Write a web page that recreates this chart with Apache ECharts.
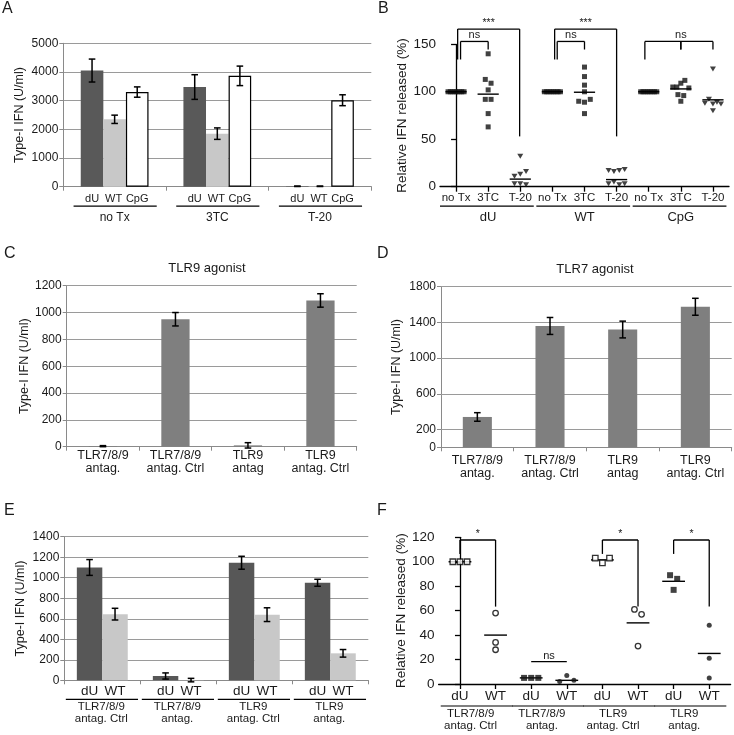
<!DOCTYPE html>
<html><head><meta charset="utf-8">
<script src="https://cdn.jsdelivr.net/npm/echarts@6/dist/echarts.min.js"></script>
<style>html,body{margin:0;padding:0;background:#fff}#c{width:734px;height:735px}</style>
</head><body><div id="c"></div>
<script>
// ---------------- DATA ----------------
// Panel A
const aGroups = ['no Tx', '3TC', 'T-20'];
const aBarNames = ['dU', 'WT', 'CpG'];
const aDU = [4050, 3475, 15];
const aWT = [2350, 1850, 15];
const aCpG = [3300, 3865, 3015];
const aDUerr = [400, 430, 8];
const aWTerr = [145, 200, 8];
const aCpGerr = [180, 340, 190];

// Panel B
const bGroups = ['dU', 'WT', 'CpG'];
const bTreat = ['no Tx', '3TC', 'T-20'];
const bDUnoTx = [100, 100, 100, 100, 100, 100, 100, 100];
const bDU3TC = [140, 113, 109, 102, 92, 92, 77, 63];
const bDUT20 = [32, 11, 13, 16, 3, 3, 2];
const bWTnoTx = [100, 100, 100, 100, 100, 100, 100, 100];
const bWT3TC = [126, 116, 107, 100, 90, 89, 92, 77];
const bWTT20 = [17, 16, 17, 18, 3, 5, 2, 3];
const bCpGnoTx = [100, 100, 100, 100, 100, 100, 100, 100];
const bCpG3TC = [105, 105, 109, 112, 104, 97, 96, 90];
const bCpGT20 = [124, 88, 92, 87, 89, 87, 80];
const bMedians = [100, 97.5, 8, 100, 99.5, 7.5, 100, 103, 91.5];
// brackets: [fromCol, toCol, barValue, fromDrop, toDrop]
const bBrackets = [[0.05, 1.98, 166, 134, 53], [0.14, 1, 153, 134, 144.5],
                   [3.07, 5, 166, 134, 53], [3.15, 4, 153, 134, 144.5],
                   [5.88, 8, 153, 134, 144.5], [7, 7, 153, 144.5, 144.5]];
const bBracketLabels = ['***', 'ns', '***', 'ns', '', ''];
const bMidLabels = [[7, 153, 'ns']];

// Panels C, D
const cdCats = ['TLR7/8/9\nantag.', 'TLR7/8/9\nantag. Ctrl', 'TLR9\nantag', 'TLR9\nantag. Ctrl'];
const cVals = [4, 950, 10, 1090];
const cErr = [4, 50, 20, 50];
const dVals = [340, 1360, 1320, 1575];
const dErr = [48, 95, 94, 95];
const dTicks = [0, 200, 600, 1000, 1400, 1800];

// Panel E
const eGroups = ['TLR7/8/9\nantag. Ctrl', 'TLR7/8/9\nantag.', 'TLR9\nantag. Ctrl', 'TLR9\nantag.'];
const eBarNames = ['dU', 'WT'];
const eDU = [1100, 42, 1146, 951];
const eDUerr = [77, 30, 63, 34];
const eWT = [645, 2, 640, 263];
const eWTerr = [57, 17, 67, 37];

// Panel F
const fGroups = ['TLR7/8/9\nantag. Ctrl', 'TLR7/8/9\nantag.', 'TLR9\nantag. Ctrl', 'TLR9\nantag.'];
const fSub = ['dU', 'WT'];
const fDU = [[100, 100, 100], [5, 5, 5], [103, 99, 103], [89, 86, 77]];
const fWT = [[58, 34, 28], [2, 7, 3], [61, 57, 31], [48, 21, 5]];
const fFilled = [false, true, false, true];
const fDUmed = [100, 5, 101.5, 84];
const fWTmed = [40, 3, 50, 25];
const fBrackets = [[0, 1, 117.8, 106.4, 63.3], [2, 3, 18.3, 18.3, 18.3], [4, 5, 117.8, 106.4, 63.3], [6, 7, 117.8, 106.4, 63.3]];
const fBracketLabels = ['*', 'ns', '*', '*'];

// ---------------- STYLE ----------------
const FONT = '"Liberation Sans", Arial, Helvetica, sans-serif';
const TXT = '#1a1a1a';
const GRIDC = '#9a9a9a';
const AXC = '#8a8a8a';
const plain = v => String(v);

function ln(x1, y1, x2, y2, color, w) {
  return { type: 'line', shape: { x1, y1, x2, y2 }, style: { stroke: color || '#000', lineWidth: w || 1.2 } };
}
function tx(x, y, str, size, align, valign) {
  return { type: 'text', x, y, style: { text: str, fill: TXT, fontSize: size, fontFamily: FONT, align: align || 'center', verticalAlign: valign || 'middle' } };
}
function errBar(cx, yT, yB, cap) {
  return [ln(cx, yT, cx, yB, '#000', 1.5), ln(cx - cap, yT, cx + cap, yT, '#000', 1.5), ln(cx - cap, yB, cx + cap, yB, '#000', 1.5)];
}
// spread points of nearly equal value sideways (dot-plot layout)
function jitter(vals, col, yThresh, step, maxSpread) {
  const idx = vals.map((v, i) => i).sort((p, q) => vals[q] - vals[p]);
  const clusters = []; let cur = [idx[0]];
  for (let k = 1; k < idx.length; k++) {
    if (Math.abs(vals[idx[k - 1]] - vals[idx[k]]) < yThresh) cur.push(idx[k]);
    else { clusters.push(cur); cur = [idx[k]]; }
  }
  clusters.push(cur);
  const out = [];
  clusters.forEach(c => {
    c.sort((p, q) => p - q);
    const n = c.length; const s = n > 1 ? Math.min(step, maxSpread / (n - 1)) : 0;
    c.forEach((id, j) => { out.push([col + (j - (n - 1) / 2) * s, vals[id]]); });
  });
  return out;
}
function catWidth(api) { return api.coord([1, 0])[0] - api.coord([0, 0])[0]; }

const excelY = (min, max, interval, name, gap, grid) => ({
  type: 'value', gridIndex: grid, min, max, interval,
  axisLine: { show: true, lineStyle: { color: AXC, width: 1 } },
  axisTick: { show: true, length: 4, lineStyle: { color: AXC } },
  axisLabel: { color: TXT, fontSize: 12, fontFamily: FONT, margin: 5, formatter: plain },
  splitLine: { show: true, lineStyle: { color: GRIDC, width: 1 } },
  name, nameLocation: 'middle', nameGap: gap, nameRotate: 90,
  nameTextStyle: { color: TXT, fontSize: 12.5, fontFamily: FONT }
});
const excelX = (data, grid, showLabel, margin) => ({
  type: 'category', gridIndex: grid, data,
  axisLine: { show: true, lineStyle: { color: AXC, width: 1 } },
  axisTick: { show: true, length: 4, lineStyle: { color: AXC } },
  axisLabel: { show: showLabel, color: TXT, fontSize: 12.5, fontFamily: FONT, margin: margin || 3, lineHeight: 12.5, interval: 0 },
  splitLine: { show: false }
});
const prismY = (min, max, interval, name, gap, grid) => ({
  type: 'value', gridIndex: grid, min, max, interval,
  axisLine: { show: true, lineStyle: { color: '#000', width: 1.3 } },
  axisTick: { show: true, length: 5, lineStyle: { color: '#000', width: 1.3 } },
  axisLabel: { color: TXT, fontSize: 13.5, fontFamily: FONT, margin: 4, formatter: plain },
  splitLine: { show: false },
  name, nameLocation: 'middle', nameGap: gap, nameRotate: 90,
  nameTextStyle: { color: TXT, fontSize: 13.5, fontFamily: FONT }
});
const prismX = (min, max, n, fmt, grid, fontSize, margin) => {
  const vals = Array.from({ length: n }, (_, i) => i);
  return {
    type: 'value', gridIndex: grid, min, max,
    axisLine: { show: true, onZero: false, lineStyle: { color: '#000', width: 1.3 } },
    axisTick: { show: true, length: 5, customValues: vals, lineStyle: { color: '#000', width: 1.3 } },
    axisLabel: { show: true, customValues: vals, formatter: v => fmt(Math.round(v)), color: TXT, fontSize, fontFamily: FONT, margin },
    splitLine: { show: false }
  };
};

// ---------------- OPTION ----------------
const chart = echarts.init(document.getElementById('c'), null, { renderer: 'canvas', width: 734, height: 735 });

const series = [];
// ----- A -----
const A_GAP = 0.34;
const aVals = [aDU, aWT, aCpG], aErrs = [aDUerr, aWTerr, aCpGerr];
const aColors = ['#595959', '#c8c8c8', '#ffffff'];
aVals.forEach((arr, k) => series.push({
  type: 'bar', name: aBarNames[k], xAxisIndex: 0, yAxisIndex: 0, data: arr,
  barGap: '0%', barCategoryGap: (A_GAP * 100) + '%',
  itemStyle: { color: aColors[k], borderColor: k === 2 ? '#000' : aColors[k], borderWidth: k === 2 ? 1.2 : 0 },
  silent: true
}));
const aErrData = [];
aVals.forEach((arr, k) => arr.forEach((v, i) => aErrData.push([i, v, aErrs[k][i], k])));
series.push({
  type: 'custom', xAxisIndex: 0, yAxisIndex: 0, data: aErrData, z: 5, silent: true,
  renderItem: (p, api) => {
    const i = api.value(0), v = api.value(1), e = api.value(2), k = api.value(3);
    const bw = catWidth(api) * (1 - A_GAP) / 3;
    const cx = api.coord([i, 0])[0] + (k - 1) * bw;
    return { type: 'group', children: errBar(cx, api.coord([i, v + e])[1], api.coord([i, v - e])[1], 3.3) };
  }
});
series.push({
  type: 'custom', xAxisIndex: 0, yAxisIndex: 0, data: aGroups.map((g, i) => [i, 0]), silent: true,
  renderItem: (p, api) => {
    const i = api.value(0); const c0 = api.coord([i, 0]); const cw = catWidth(api);
    const bw = cw * (1 - A_GAP) / 3;
    const ch = aBarNames.map((n, k) => tx(c0[0] + (k - 1) * bw - (k === 1 ? 1 : 0), c0[1] + 12, n, 11));
    ch.push(ln(c0[0] - 0.40 * cw, c0[1] + 19.5, c0[0] + 0.41 * cw, c0[1] + 19.5, '#000', 1.2));
    ch.push(tx(c0[0], c0[1] + 30.5, aGroups[i], 12));
    return { type: 'group', children: ch };
  }
});

// ----- B -----
const bColumns = [bDUnoTx, bDU3TC, bDUT20, bWTnoTx, bWT3TC, bWTT20, bCpGnoTx, bCpG3TC, bCpGT20];
const bSq = [], bTri = [];
bColumns.forEach((col, i) => { const pts = jitter(col, i, 5, 0.18, 0.5); (i % 3 === 2 ? bTri : bSq).push(...pts); });
series.push({ type: 'scatter', xAxisIndex: 1, yAxisIndex: 1, data: bSq, symbol: 'rect', symbolSize: 5, itemStyle: { color: '#111' }, silent: true });
series.push({ type: 'scatter', xAxisIndex: 1, yAxisIndex: 1, data: bTri, symbol: 'triangle', symbolRotate: 180, symbolSize: [6, 5], itemStyle: { color: '#111' }, silent: true });
series.push({
  type: 'custom', xAxisIndex: 1, yAxisIndex: 1, data: bMedians.map((m, i) => [i, m]), silent: true, z: 4,
  renderItem: (p, api) => {
    const i = api.value(0), m = api.value(1);
    const a = api.coord([i - 0.33, m]), b = api.coord([i + 0.33, m]);
    return ln(a[0], a[1], b[0], b[1], '#000', 1.4);
  }
});
series.push({
  type: 'custom', xAxisIndex: 1, yAxisIndex: 1, data: bBrackets.map((b, i) => [...b, i]), silent: true, clip: false,
  renderItem: (p, api) => {
    const x1 = api.value(0), x2 = api.value(1), y = api.value(2), y1 = api.value(3), y2 = api.value(4), k = api.value(5);
    const a = api.coord([x1, y]), b = api.coord([x2, y]), a2 = api.coord([x1, y1]), b2 = api.coord([x2, y2]);
    const ch = [ln(a[0], a[1], b[0], b[1], '#000', 1.3), ln(a[0], a[1], a2[0], a2[1], '#000', 1.3), ln(b[0], b[1], b2[0], b2[1], '#000', 1.3)];
    const lab = bBracketLabels[k];
    if (lab) ch.push(tx((a[0] + b[0]) / 2, a[1] - 6.5, lab, lab === 'ns' ? 11 : 10.5));
    return { type: 'group', children: ch };
  }
});
series.push({
  type: 'custom', xAxisIndex: 1, yAxisIndex: 1, data: bMidLabels.map(m => [m[0], m[1]]), silent: true, clip: false,
  renderItem: (p, api) => { const c = api.coord([api.value(0), api.value(1)]); return tx(c[0], c[1] - 6.5, bMidLabels[p.dataIndex][2], 11); }
});
series.push({
  type: 'custom', xAxisIndex: 1, yAxisIndex: 1, data: bGroups.map((g, i) => [i * 3 + 1, 0]), silent: true, clip: false,
  renderItem: (p, api) => {
    const c = api.value(0); const a = api.coord([c - 1.5, 0]), b = api.coord([c + 1.42, 0]), m = api.coord([c, 0]);
    return { type: 'group', children: [ln(a[0], a[1] + 19.5, b[0], b[1] + 19.5, '#000', 1.2), tx(m[0], m[1] + 31, bGroups[p.dataIndex], 13)] };
  }
});

// ----- C -----
const C_GAP = 0.61;
series.push({ type: 'bar', xAxisIndex: 2, yAxisIndex: 2, data: cVals, barCategoryGap: (C_GAP * 100) + '%', itemStyle: { color: '#7f7f7f' }, silent: true });
series.push({
  type: 'custom', xAxisIndex: 2, yAxisIndex: 2, data: cVals.map((v, i) => [i, v, cErr[i]]), silent: true, z: 5,
  renderItem: (p, api) => {
    const i = api.value(0), v = api.value(1), e = api.value(2);
    return { type: 'group', children: errBar(api.coord([i, 0])[0], api.coord([i, v + e])[1], api.coord([i, v - e])[1], 3.3) };
  }
});
// ----- D -----
const D_GAP = 0.60;
series.push({
  type: 'bar', xAxisIndex: 3, yAxisIndex: 3, data: dVals, barCategoryGap: (D_GAP * 100) + '%', itemStyle: { color: '#7f7f7f' }, silent: true, z: 3,
  markLine: { silent: true, symbol: 'none', z: 1, label: { show: false }, lineStyle: { color: GRIDC, type: 'solid', width: 1 },
    data: dTicks.filter(v => v > 0).map(v => ({ yAxis: v })) }
});
series.push({
  type: 'custom', xAxisIndex: 3, yAxisIndex: 3, data: dVals.map((v, i) => [i, v, dErr[i]]), silent: true, z: 5,
  renderItem: (p, api) => {
    const i = api.value(0), v = api.value(1), e = api.value(2);
    return { type: 'group', children: errBar(api.coord([i, 0])[0], api.coord([i, v + e])[1], api.coord([i, v - e])[1], 3.3) };
  }
});

// ----- E -----
const E_GAP = 0.33;
const eVals = [eDU, eWT], eErrs = [eDUerr, eWTerr], eColors = ['#575757', '#c8c8c8'];
eVals.forEach((arr, k) => series.push({
  type: 'bar', name: eBarNames[k], xAxisIndex: 4, yAxisIndex: 4, data: arr, barGap: '0%', barCategoryGap: (E_GAP * 100) + '%',
  itemStyle: { color: eColors[k] }, silent: true
}));
const eErrData = [];
eVals.forEach((arr, k) => arr.forEach((v, i) => eErrData.push([i, v, eErrs[k][i], k])));
series.push({
  type: 'custom', xAxisIndex: 4, yAxisIndex: 4, data: eErrData, silent: true, z: 5,
  renderItem: (p, api) => {
    const i = api.value(0), v = api.value(1), e = api.value(2), k = api.value(3);
    const bw = catWidth(api) * (1 - E_GAP) / 2;
    const cx = api.coord([i, 0])[0] + (k - 0.5) * bw;
    return { type: 'group', children: errBar(cx, api.coord([i, v + e])[1], api.coord([i, v - e])[1], 3.3) };
  }
});
series.push({
  type: 'custom', xAxisIndex: 4, yAxisIndex: 4, data: eGroups.map((g, i) => [i, 0]), silent: true,
  renderItem: (p, api) => {
    const i = api.value(0); const c0 = api.coord([i, 0]); const cw = catWidth(api);
    const bw = cw * (1 - E_GAP) / 2;
    const ch = eBarNames.map((n, k) => tx(c0[0] + (k - 0.5) * bw, c0[1] + 11, n, 13.5));
    ch.push(ln(c0[0] - 0.48 * cw, c0[1] + 19, c0[0] + 0.47 * cw, c0[1] + 19, '#000', 1.2));
    eGroups[i].split('\n').forEach((t, j) => ch.push(tx(c0[0] - 1, c0[1] + 27 + j * 12, t, 11.5)));
    return { type: 'group', children: ch };
  }
});

// ----- F -----
const fSets = { openSq: [], fillSq: [], openCi: [], fillCi: [] };
fDU.forEach((g, i) => { const pts = jitter(g, 2 * i, 5, 0.2, 0.45); (fFilled[i] ? fSets.fillSq : fSets.openSq).push(...pts); });
fWT.forEach((g, i) => { const pts = jitter(g, 2 * i + 1, 5, 0.2, 0.45); (fFilled[i] ? fSets.fillCi : fSets.openCi).push(...pts); });
const openStyle = { color: '#fff', borderColor: '#000', borderWidth: 1.3 };
series.push({ type: 'scatter', xAxisIndex: 5, yAxisIndex: 5, data: fSets.openSq, symbol: 'rect', symbolSize: 5.5, itemStyle: openStyle, silent: true, z: 5 });
series.push({ type: 'scatter', xAxisIndex: 5, yAxisIndex: 5, data: fSets.fillSq, symbol: 'rect', symbolSize: 6, itemStyle: { color: '#111' }, silent: true, z: 5 });
series.push({ type: 'scatter', xAxisIndex: 5, yAxisIndex: 5, data: fSets.openCi, symbol: 'circle', symbolSize: 5.5, itemStyle: openStyle, silent: true, z: 5 });
series.push({ type: 'scatter', xAxisIndex: 5, yAxisIndex: 5, data: fSets.fillCi, symbol: 'circle', symbolSize: 5, itemStyle: { color: '#111' }, silent: true, z: 5 });
const fMedData = [];
fDUmed.forEach((m, i) => { fMedData.push([2 * i, m]); fMedData.push([2 * i + 1, fWTmed[i]]); });
series.push({
  type: 'custom', xAxisIndex: 5, yAxisIndex: 5, data: fMedData, silent: true, z: 4,
  renderItem: (p, api) => {
    const i = api.value(0), m = api.value(1);
    const a = api.coord([i - 0.32, m]), b = api.coord([i + 0.32, m]);
    return ln(a[0], a[1], b[0], b[1], '#000', 1.4);
  }
});
series.push({
  type: 'custom', xAxisIndex: 5, yAxisIndex: 5, data: fBrackets.map((b, i) => [...b, i]), silent: true, clip: false,
  renderItem: (p, api) => {
    const x1 = api.value(0), x2 = api.value(1), y = api.value(2), y1 = api.value(3), y2 = api.value(4), k = api.value(5);
    const a = api.coord([x1, y]), b = api.coord([x2, y]), a2 = api.coord([x1, y1]), b2 = api.coord([x2, y2]);
    const ch = [ln(a[0], a[1], b[0], b[1], '#000', 1.3), ln(a[0], a[1], a2[0], a2[1], '#000', 1.3), ln(b[0], b[1], b2[0], b2[1], '#000', 1.3)];
    const lab = fBracketLabels[k];
    ch.push(tx((a[0] + b[0]) / 2, a[1] - 6, lab, lab === 'ns' ? 11 : 10.5));
    return { type: 'group', children: ch };
  }
});
series.push({
  type: 'custom', xAxisIndex: 5, yAxisIndex: 5, data: fGroups.map((g, i) => [2 * i + 0.5, 0]), silent: true, clip: false,
  renderItem: (p, api) => {
    const c = api.value(0); const a = api.coord([c - 1.04, 0]), b = api.coord([c + 0.98, 0]), m = api.coord([c - 0.2, 0]);
    const ch = [ln(a[0], a[1] + 22, b[0], b[1] + 22, '#000', 1.2)];
    fGroups[p.dataIndex].split('\n').forEach((t, j) => ch.push(tx(m[0], m[1] + 29.5 + j * 12, t, 11.5)));
    return { type: 'group', children: ch };
  }
});

const letter = (t, left, top) => ({ text: t, left, top, padding: 0, textStyle: { fontSize: 16, fontWeight: 'normal', color: TXT, fontFamily: FONT } });

const option = {
  animation: false,
  backgroundColor: '#fff',
  title: [
    letter('A', 2, 1), letter('B', 378, 1), letter('C', 4, 246), letter('D', 377, 246), letter('E', 4, 503), letter('F', 377, 503),
    { text: 'TLR9 agonist', left: 207, top: 262, textAlign: 'center', padding: 0, textStyle: { fontSize: 13, fontWeight: 'normal', color: TXT, fontFamily: FONT } },
    { text: 'TLR7 agonist', left: 595, top: 263, textAlign: 'center', padding: 0, textStyle: { fontSize: 13, fontWeight: 'normal', color: TXT, fontFamily: FONT } }
  ],
  grid: [
    { left: 63.3, top: 43.3, width: 308, height: 143.4, outerBoundsMode: 'none' },
    { left: 440, top: 44.3, width: 289, height: 142.4, outerBoundsMode: 'none' },
    { left: 66.7, top: 285.7, width: 290, height: 161, outerBoundsMode: 'none' },
    { left: 441, top: 286.7, width: 290.7, height: 160.6, outerBoundsMode: 'none' },
    { left: 64.3, top: 536.7, width: 304, height: 143.6, outerBoundsMode: 'none' },
    { left: 438.6, top: 537.3, width: 292, height: 146.7, outerBoundsMode: 'none' }
  ],
  xAxis: [
    excelX(aGroups, 0, false),
    prismX(-0.5, 8.5, 9, i => bTreat[i % 3], 1, 11.5, 5),
    excelX(cdCats, 2, true, 3),
    excelX(cdCats, 3, true, 7),
    excelX(eGroups, 4, false),
    prismX(-0.6, 7.6, 8, i => fSub[i % 2], 5, 13.5, 5)
  ],
  yAxis: [
    excelY(0, 5000, 1000, 'Type-I IFN (U/ml)', 37, 0),
    prismY(0, 150, 50, 'Relative IFN released (%)', 29, 1),
    excelY(0, 1200, 200, 'Type-I IFN (U/ml)', 35, 2),
    Object.assign(excelY(0, 1800, 200, 'Type-I IFN (U/ml)', 38, 3), {
      axisTick: { show: true, length: 4, customValues: dTicks, lineStyle: { color: AXC } },
      axisLabel: { color: TXT, fontSize: 12, fontFamily: FONT, margin: 5, customValues: dTicks, formatter: plain },
      splitLine: { show: false }
    }),
    excelY(0, 1400, 200, 'Type-I IFN (U/ml)', 37, 4),
    prismY(0, 120, 20, 'Relative IFN released (%)', 29, 5)
  ],
  series
};
chart.setOption(option);
</script>
</body></html>
